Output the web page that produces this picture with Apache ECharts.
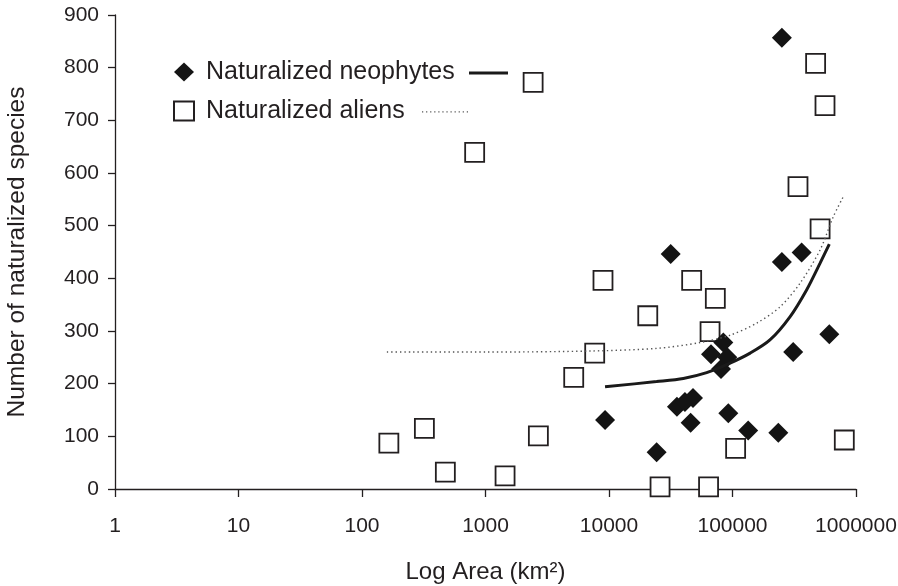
<!DOCTYPE html>
<html>
<head>
<meta charset="utf-8">
<script src="https://cdn.jsdelivr.net/npm/echarts@6/dist/echarts.min.js"></script>
<style>
html,body{margin:0;padding:0;background:#fff;}
#chart{width:898px;height:586px;}
</style>
</head>
<body>
<div id="chart"></div>
<script>
// Naturalized neophytes (diamonds): area (km2), number of species
var neoX = [251000, 31600, 251000, 363000, 608000, 310000, 84300, 67000, 90800, 80700, 35500, 41200, 47900, 45800, 92500, 134000, 235000, 9290, 24300];
var neoY = [857, 446, 431, 449, 294, 260, 278, 256, 250, 228, 156, 165, 173, 126, 144, 111, 107, 131, 70];

// Naturalized aliens (squares)
var alienX = [2430, 817, 471000, 561000, 339000, 512000, 8940, 46700, 72600, 20600, 65800, 7660, 5180, 165, 320, 473, 1440, 2680, 25900, 64000, 106000, 804000];
var alienY = [772, 639, 808, 728, 574, 494, 396, 396, 362, 329, 299, 258, 212, 87, 115, 32, 25, 101, 4, 4, 77, 93];

// Trend lines
var neoTrendX = [9290, 24300, 40000, 61800, 95500, 139000, 201000, 292000, 398000, 512000, 608000];
var neoTrendY = [194, 204, 210, 221, 239, 258, 283, 327, 378, 429, 465];
var alienTrendX = [159, 1000, 7020, 24300, 54600, 95500, 157000, 243000, 353000, 512000, 655000, 789000];
var alienTrendY = [260, 260, 262, 267, 278, 292, 315, 346, 391, 454, 517, 555];

// Axis ticks
var xTicks = [1, 10, 100, 1000, 10000, 100000, 1000000];
var yTicks = [0, 100, 200, 300, 400, 500, 600, 700, 800, 900];

var seriesNames = ['Naturalized neophytes', 'Naturalized aliens', 'Neophytes trend', 'Aliens trend'];

function pairs(xs, ys) {
  return xs.map(function (x, i) { return [x, ys[i]]; });
}

var FONT = '"Liberation Sans", Arial, Helvetica, sans-serif';
var TXT = '#231f20';

// dotted legend icon (a row of small dots)
var dotPath = 'path://';
for (var k = 0; k < 12; k++) { dotPath += 'M' + (k * 4) + ',0h1.2v1.2h-1.2z'; }

var chart = echarts.init(document.getElementById('chart'), null, {renderer: 'canvas'});
chart.setOption({
  animation: false,
  backgroundColor: '#ffffff',
  textStyle: {fontFamily: FONT, color: TXT},
  grid: {left: 115, right: 42, top: 15, bottom: 97, containLabel: false, outerBoundsMode: 'none'},
  legend: [
    {
      data: [seriesNames[0], seriesNames[1]],
      orient: 'vertical', padding: 0,
      left: 173, top: 59.5,
      itemWidth: 20, itemHeight: 19, itemGap: 14,
      textStyle: {fontFamily: FONT, fontSize: 25, lineHeight: 25, color: TXT, padding: [0, 0, 0, 7]}
    },
    {
      data: [{name: seriesNames[2], icon: 'rect'}],
      padding: 0, left: 469, top: 71.5,
      itemWidth: 39, itemHeight: 3,
      itemStyle: {color: '#1a1a1a', borderWidth: 0},
      formatter: function () { return ''; },
      textStyle: {fontSize: 25, lineHeight: 25}
    },
    {
      data: [{name: seriesNames[3], icon: dotPath}],
      padding: 0, left: 422, top: 111.3,
      itemWidth: 46, itemHeight: 1.4,
      itemStyle: {color: '#555555', borderWidth: 0},
      formatter: function () { return ''; },
      textStyle: {fontSize: 25, lineHeight: 25}
    }
  ],
  xAxis: {
    type: 'log', logBase: 10, min: xTicks[0], max: xTicks[xTicks.length - 1],
    name: 'Log Area (km²)', nameLocation: 'middle', nameGap: 71,
    nameTextStyle: {fontFamily: FONT, fontSize: 24, color: TXT},
    axisLine: {show: true, lineStyle: {color: '#231f20', width: 1.3}},
    axisTick: {show: true, inside: false, length: 8, lineStyle: {color: '#231f20', width: 1.3}},
    minorTick: {show: false},
    splitLine: {show: false},
    axisLabel: {
      margin: 27, fontFamily: FONT, fontSize: 21, color: TXT,
      formatter: function (v) {
        var r = Math.round(v);
        var best = xTicks.reduce(function (a, b) { return Math.abs(b - r) < Math.abs(a - r) ? b : a; });
        return String(best);
      }
    }
  },
  yAxis: {
    type: 'value', min: yTicks[0], max: yTicks[yTicks.length - 1], interval: 100,
    name: 'Number of naturalized species', nameLocation: 'middle', nameGap: 85, nameRotate: 90,
    nameTextStyle: {fontFamily: FONT, fontSize: 24.5, color: TXT},
    axisLine: {show: true, lineStyle: {color: '#231f20', width: 1.3}},
    axisTick: {show: true, inside: false, length: 7, lineStyle: {color: '#231f20', width: 1.3}},
    splitLine: {show: false},
    axisLabel: {margin: 16, fontFamily: FONT, fontSize: 21, color: TXT}
  },
  series: [
    {
      name: seriesNames[0], type: 'scatter', symbol: 'diamond', symbolSize: 20,
      itemStyle: {color: '#141414', opacity: 1},
      data: pairs(neoX, neoY), z: 2
    },
    {
      name: seriesNames[1], type: 'scatter', symbol: 'rect', symbolSize: 19,
      itemStyle: {color: '#ffffff', borderColor: '#231f20', borderWidth: 1.8, opacity: 1},
      data: pairs(alienX, alienY), z: 1
    },
    {
      name: seriesNames[2], type: 'line', symbol: 'none', showSymbol: false, smooth: 0.3,
      itemStyle: {color: '#1a1a1a'},
      lineStyle: {color: '#1a1a1a', width: 3, type: 'solid'},
      data: pairs(neoTrendX, neoTrendY), z: 4
    },
    {
      name: seriesNames[3], type: 'line', symbol: 'none', showSymbol: false, smooth: 0.3,
      itemStyle: {color: '#555555'},
      lineStyle: {color: '#555555', width: 1.4, type: [1.4, 3]},
      data: pairs(alienTrendX, alienTrendY), z: 4
    }
  ]
});
</script>
</body>
</html>
